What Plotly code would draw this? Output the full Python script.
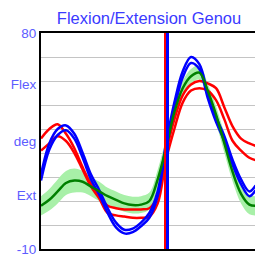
import plotly.graph_objects as go

# gait cycle (%)
cycle = [0, 4, 8, 12, 16, 20, 24, 28, 32, 36, 40, 44, 48, 52, 56, 60, 64, 68, 72, 76, 80, 84, 88, 92, 96, 100, 103]

red_a = [36, 40, 42, 38, 32, 24, 17, 12, 8, 7, 6.5, 6.5, 6.5, 7, 12, 30, 44, 54, 58.5, 60, 59, 57, 49, 41, 36, 34, 33]
red_b = [31, 34, 37, 35, 30, 23, 16, 11, 5, 4, 3.5, 3, 3, 3.5, 9, 27, 40, 51, 56, 57, 56, 52, 44, 35, 31, 28, 27]
blue_a = [21, 34, 40, 41.5, 38, 30, 21, 14.5, 7, 1, -2, -1.5, 1, 5, 14, 34, 51, 64, 70, 67, 55, 45, 37, 27, 19, 14, 16.5]
blue_b = [18.5, 31.5, 37.5, 39.5, 36, 28, 19, 12.5, 5, -1, -3.5, -3, -0.5, 3, 12, 32, 48.5, 61.5, 67.5, 65, 53, 43, 35, 25, 17, 12, 14.5]
green_mean = [8, 10.5, 14, 17.5, 18.5, 18, 16, 14, 12, 10.5, 9, 8.3, 8.5, 10, 19, 32, 47, 57, 62, 63.5, 56, 46, 34, 22, 13, 8.5, 8]
green_sd = [4, 4.5, 5, 5, 5, 4.5, 4, 4, 3.5, 3.5, 3.5, 3.5, 3.5, 3.5, 4, 4, 3.5, 3, 3, 3, 3, 3.5, 4, 4, 4, 4, 4]

toe_off_red = 59.5
toe_off_blue = 60.7

y_grid = [-10, 0, 10, 20, 30, 40, 50, 60, 70, 80]
y_label_vals = [-10, 12.4, 35, 58.6, 80]
y_label_text = ['-10', 'Ext', 'deg', 'Flex', '80']

title_text = 'Flexion/Extension Genou'

upper = [m + s for m, s in zip(green_mean, green_sd)]
lower = [m - s for m, s in zip(green_mean, green_sd)]

fig = go.Figure()
fig.add_trace(go.Scatter(x=[None], y=[None], yaxis='y2', showlegend=False))
fig.add_trace(go.Scatter(x=cycle, y=upper, mode='lines', line=dict(width=0, color='#99ee99', shape='spline'),
                         showlegend=False, hoverinfo='skip'))
fig.add_trace(go.Scatter(x=cycle, y=lower, mode='lines', line=dict(width=0, color='#99ee99', shape='spline'),
                         fill='tonexty', fillcolor='#a8f0a8', showlegend=False, hoverinfo='skip'))
for ys in (red_a, red_b):
    fig.add_trace(go.Scatter(x=cycle, y=ys, mode='lines', line=dict(color='#ff0000', width=2.5, shape='spline'),
                             showlegend=False))
for ys in (blue_a, blue_b):
    fig.add_trace(go.Scatter(x=cycle, y=ys, mode='lines', line=dict(color='#0000ff', width=2.5, shape='spline'),
                             showlegend=False))
fig.add_trace(go.Scatter(x=cycle, y=green_mean, mode='lines', line=dict(color='#008000', width=2.5, shape='spline'),
                         showlegend=False))
fig.add_trace(go.Scatter(x=[toe_off_red, toe_off_red], y=[-10, 80], mode='lines',
                         line=dict(color='#ff0000', width=2), showlegend=False))
fig.add_trace(go.Scatter(x=[toe_off_blue, toe_off_blue], y=[-10, 80], mode='lines',
                         line=dict(color='#0000ff', width=3), showlegend=False))

fig.update_layout(
    width=255, height=263,
    margin=dict(l=41, r=0, t=33, b=14, autoexpand=False),
    paper_bgcolor='white', plot_bgcolor='white',
    title=dict(text=title_text, x=149/255, xanchor='center', xref='container', y=1 - 18/263, yanchor='middle',
               yref='container',
               font=dict(family='Liberation Sans, Arial', size=16.5, color='#3a3aff')),
    xaxis=dict(range=[0, 102.7], showgrid=False, zeroline=False, showticklabels=False, ticks='',
               showline=True, mirror=True, linecolor='#000000', linewidth=2, automargin=False),
    yaxis=dict(range=[-10, 80], tickvals=y_label_vals, ticktext=y_label_text, showgrid=False, zeroline=False,
               showline=True, linecolor='#000000', linewidth=2, ticks='', automargin=False,
               tickfont=dict(family='Liberation Sans, Arial', size=13.5, color='#5c5cff')),
    yaxis2=dict(range=[-10, 80], overlaying='y', tickvals=y_grid, showticklabels=False, showgrid=True,
                gridcolor='#c4c4c4', gridwidth=1, zeroline=False, showline=False, ticks='', automargin=False),
)
fig.write_html('out.html', config={'displayModeBar': False},
               post_script="document.body.style.margin='0';document.body.style.overflow='hidden';")
